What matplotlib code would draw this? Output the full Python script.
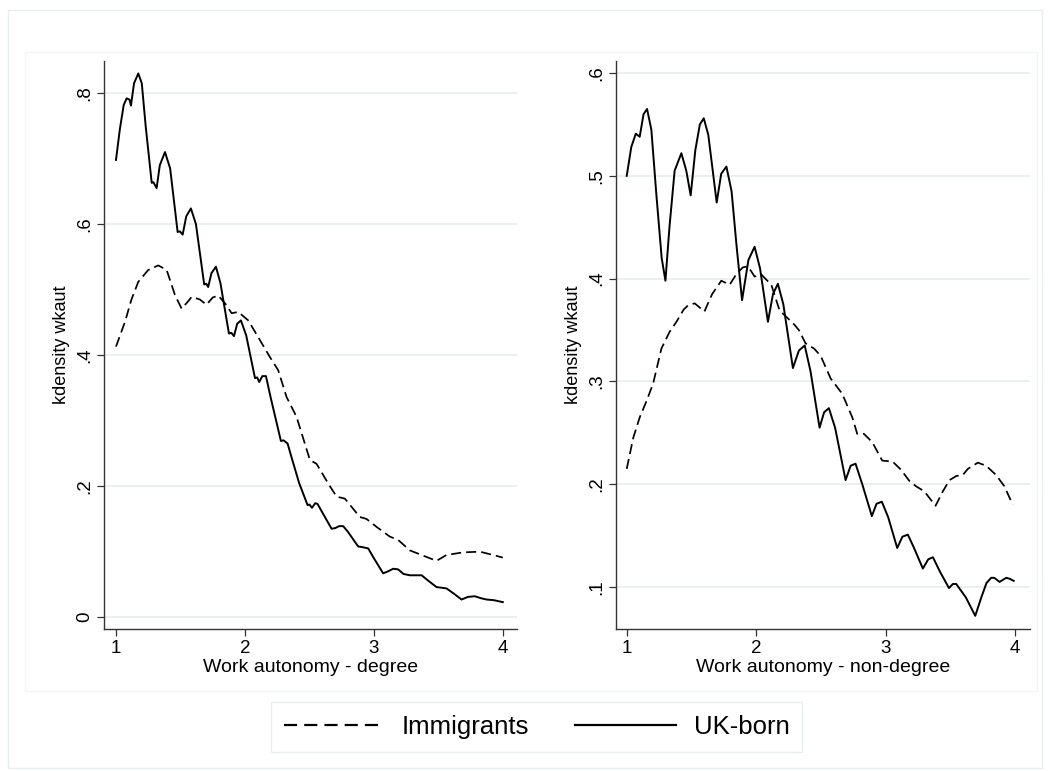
import matplotlib.pyplot as plt
from matplotlib.patches import Rectangle
from matplotlib.lines import Line2D
from matplotlib.ticker import FuncFormatter

# Left panel: degree
deg_uk_x = [1.0, 1.03, 1.06, 1.083, 1.105, 1.116, 1.14, 1.173, 1.2, 1.23, 1.277, 1.29, 1.315, 1.34, 1.38,
            1.42, 1.478, 1.495, 1.517, 1.545, 1.581, 1.62, 1.684, 1.70, 1.715, 1.74, 1.775, 1.81, 1.876,
            1.895, 1.915, 1.94, 1.969, 2.01, 2.078, 2.095, 2.111, 2.135, 2.163, 2.2, 2.279, 2.30, 2.331,
            2.36, 2.42, 2.486, 2.50, 2.52, 2.545, 2.563, 2.60, 2.672, 2.70, 2.73, 2.762, 2.80, 2.878,
            2.91, 2.956, 3.0, 3.072, 3.11, 3.15, 3.188, 3.23, 3.279, 3.37, 3.42, 3.486, 3.563, 3.62,
            3.68, 3.73, 3.783, 3.83, 3.874, 3.93, 4.0]
deg_uk_y = [0.698, 0.745, 0.782, 0.792, 0.79, 0.781, 0.815, 0.830, 0.815, 0.75, 0.663, 0.664, 0.655, 0.690,
            0.710, 0.685, 0.588, 0.589, 0.584, 0.612, 0.624, 0.600, 0.508, 0.509, 0.504, 0.525, 0.535,
            0.510, 0.433, 0.434, 0.429, 0.448, 0.453, 0.430, 0.365, 0.366, 0.359, 0.368, 0.368, 0.335,
            0.269, 0.270, 0.265, 0.245, 0.205, 0.171, 0.172, 0.167, 0.174, 0.173, 0.160, 0.135, 0.136,
            0.139, 0.139, 0.130, 0.108, 0.107, 0.105, 0.090, 0.067, 0.070, 0.074, 0.073, 0.066, 0.064,
            0.064, 0.056, 0.046, 0.044, 0.036, 0.027, 0.031, 0.032, 0.029, 0.027, 0.026, 0.023]
deg_imm_x = [1.0, 1.07, 1.12, 1.173, 1.25, 1.328, 1.393, 1.457, 1.509, 1.55, 1.587, 1.65, 1.702, 1.75,
             1.793, 1.85, 1.897, 1.948, 2.026, 2.11, 2.194, 2.258, 2.323, 2.40, 2.504, 2.556, 2.646,
             2.711, 2.775, 2.891, 2.943, 3.02, 3.124, 3.188, 3.279, 3.408, 3.486, 3.563, 3.693, 3.822,
             3.925, 4.0]
deg_imm_y = [0.413, 0.451, 0.485, 0.512, 0.530, 0.537, 0.530, 0.492, 0.471, 0.480, 0.489, 0.485, 0.477,
             0.488, 0.491, 0.478, 0.464, 0.466, 0.453, 0.425, 0.397, 0.377, 0.336, 0.306, 0.240, 0.234,
             0.204, 0.184, 0.181, 0.153, 0.150, 0.138, 0.123, 0.118, 0.102, 0.092, 0.086, 0.095, 0.099,
             0.100, 0.095, 0.091]

# Right panel: non-degree
nondeg_uk_x = [1.0, 1.035, 1.07, 1.10, 1.13, 1.157, 1.19, 1.23, 1.27, 1.299, 1.33, 1.37, 1.422, 1.46,
               1.494, 1.53, 1.565, 1.595, 1.63, 1.695, 1.73, 1.77, 1.81, 1.85, 1.891, 1.94, 1.988, 2.03,
               2.091, 2.13, 2.168, 2.21, 2.284, 2.33, 2.375, 2.42, 2.49, 2.525, 2.562, 2.61, 2.691,
               2.73, 2.768, 2.82, 2.894, 2.93, 2.971, 3.02, 3.09, 3.13, 3.172, 3.22, 3.288, 3.33, 3.366,
               3.42, 3.49, 3.52, 3.546, 3.62, 3.693, 3.74, 3.78, 3.816, 3.84, 3.881, 3.932, 3.96, 3.99]
nondeg_uk_y = [0.500, 0.528, 0.541, 0.538, 0.560, 0.565, 0.545, 0.480, 0.420, 0.398, 0.450, 0.505, 0.522,
               0.505, 0.481, 0.525, 0.550, 0.556, 0.540, 0.474, 0.502, 0.509, 0.485, 0.430, 0.379, 0.418,
               0.431, 0.410, 0.358, 0.385, 0.395, 0.375, 0.313, 0.330, 0.335, 0.310, 0.255, 0.270, 0.274,
               0.255, 0.204, 0.218, 0.220, 0.200, 0.169, 0.181, 0.183, 0.168, 0.138, 0.149, 0.151, 0.138,
               0.118, 0.127, 0.129, 0.115, 0.099, 0.103, 0.103, 0.090, 0.072, 0.090, 0.104, 0.109, 0.109,
               0.105, 0.109, 0.108, 0.106]
nondeg_imm_x = [1.0, 1.05, 1.10, 1.153, 1.204, 1.268, 1.33, 1.384, 1.44, 1.474, 1.525, 1.60, 1.66, 1.731,
                1.795, 1.85, 1.898, 1.937, 1.988, 2.04, 2.117, 2.181, 2.24, 2.297, 2.33, 2.382, 2.447,
                2.498, 2.575, 2.665, 2.743, 2.781, 2.833, 2.897, 2.974, 3.055, 3.12, 3.185, 3.236, 3.30,
                3.386, 3.442, 3.494, 3.546, 3.597, 3.636, 3.713, 3.777, 3.854, 3.918, 3.983]
nondeg_imm_y = [0.215, 0.245, 0.265, 0.281, 0.298, 0.332, 0.348, 0.358, 0.370, 0.374, 0.376, 0.368, 0.385,
                0.398, 0.394, 0.405, 0.411, 0.412, 0.402, 0.404, 0.394, 0.369, 0.362, 0.355, 0.350, 0.337,
                0.332, 0.325, 0.303, 0.288, 0.265, 0.249, 0.249, 0.241, 0.223, 0.222, 0.214, 0.203, 0.198,
                0.193, 0.179, 0.193, 0.204, 0.208, 0.209, 0.215, 0.221, 0.218, 0.209, 0.198, 0.180]

x_ticks = [1, 2, 3, 4]
deg_yticks = [0, 0.2, 0.4, 0.6, 0.8]
nondeg_yticks = [0.1, 0.2, 0.3, 0.4, 0.5, 0.6]
series_names = ['Immigrants', 'UK-born']

plt.rcParams['font.family'] = ['Liberation Sans', 'DejaVu Sans']

W, H = 1050, 771
fig = plt.figure(figsize=(W / 100, H / 100), dpi=100)
fig.patch.set_facecolor('white')

# outer and inner region frames
fig.patches.append(Rectangle((8 / W, 1 - 768 / H), 1034 / W, 758 / H, transform=fig.transFigure,
                             fill=False, edgecolor='#e8eef0', lw=1))
fig.patches.append(Rectangle((25 / W, 1 - 691 / H), 1012 / W, 639 / H, transform=fig.transFigure,
                             fill=False, edgecolor='#f2f5f6', lw=1))


def stata_fmt(v, pos):
    s = '%g' % round(v, 3)
    if s.startswith('0.'):
        s = s[1:]
    return s


def setup_axis(ax, yticks, xlabel):
    ax.set_xticks(x_ticks)
    ax.set_yticks(yticks)
    ax.yaxis.set_major_formatter(FuncFormatter(stata_fmt))
    for t in ax.get_yticklabels():
        t.set_rotation(90)
        t.set_va('center')
    ax.grid(axis='y', color='#e6eef0', lw=1.2)
    ax.set_axisbelow(True)
    for side in ['top', 'right']:
        ax.spines[side].set_visible(False)
    for side in ['left', 'bottom']:
        ax.spines[side].set_color('#333333')
        ax.spines[side].set_linewidth(1.0)
    ax.tick_params(axis='both', length=5, width=0.9, color='#333333', labelsize=13.5, pad=3)
    ax.set_xlabel(xlabel, fontsize=14, labelpad=1)
    ax.set_ylabel('kdensity wkaut', fontsize=13, labelpad=4)


ax1 = fig.add_axes([104 / W, 1 - 629 / H, 413 / W, 568 / H])
ax1.plot(deg_imm_x, deg_imm_y, color='black', lw=1.25, dashes=(5.8, 2.9))
ax1.plot(deg_uk_x, deg_uk_y, color='black', lw=1.4)
ax1.set_xlim(0.907, 4.11)
ax1.set_ylim(-0.018, 0.849)
setup_axis(ax1, deg_yticks, 'Work autonomy - degree')

ax2 = fig.add_axes([616 / W, 1 - 629 / H, 414 / W, 568 / H])
ax2.plot(nondeg_imm_x, nondeg_imm_y, color='black', lw=1.25, dashes=(5.8, 2.9))
ax2.plot(nondeg_uk_x, nondeg_uk_y, color='black', lw=1.4)
ax2.set_xlim(0.917, 4.116)
ax2.set_ylim(0.0592, 0.6117)
setup_axis(ax2, nondeg_yticks, 'Work autonomy - non-degree')

handles = [Line2D([], [], color='black', lw=1.6, dashes=(5.9, 3.2)),
           Line2D([], [], color='black', lw=1.6)]
leg = fig.legend(handles, series_names, loc='center', bbox_to_anchor=(536.5 / W, 1 - 727 / H), ncol=2,
                 fontsize=18.5, handlelength=3.9, handletextpad=0.7, columnspacing=1.8, borderpad=0.5,
                 frameon=True, fancybox=False)
leg.get_frame().set_edgecolor('#e3eaec')
leg.get_frame().set_linewidth(1.0)

fig.savefig('out.png', dpi=100, facecolor='white')
